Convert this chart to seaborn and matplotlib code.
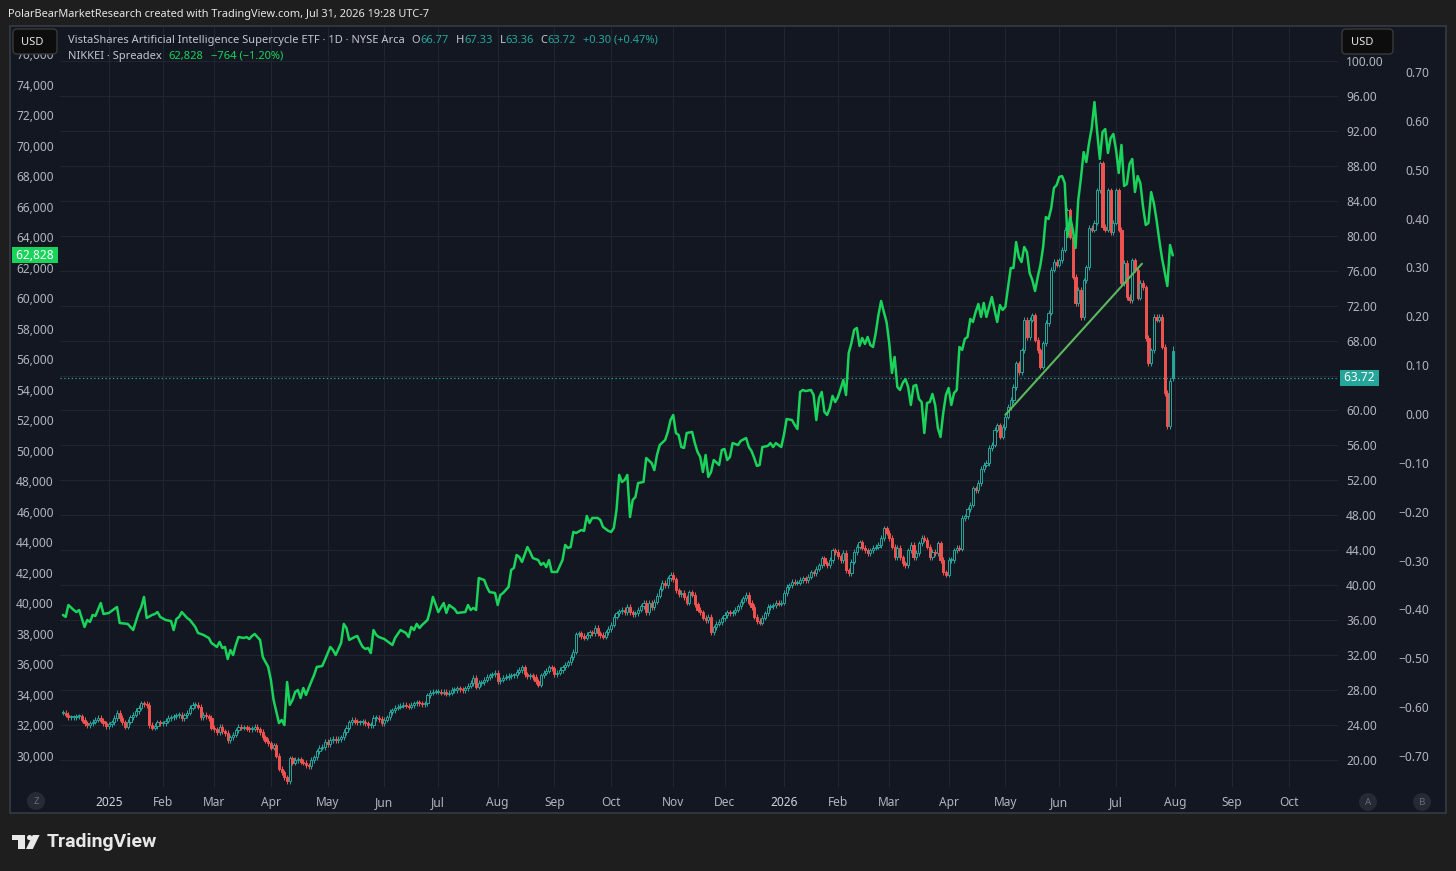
import numpy as np
import pandas as pd
import matplotlib
matplotlib.use('Agg')
import matplotlib.pyplot as plt
import seaborn as sns
from matplotlib.patches import Rectangle, FancyBboxPatch, Circle, Polygon
from matplotlib.transforms import IdentityTransform

# ---------------- data ----------------
# NYSE holidays, used to build the trading-day axis (TradingView skips them)
holidays = ['2024-12-25', '2025-01-01', '2025-01-09', '2025-01-20', '2025-02-17',
            '2025-04-18', '2025-05-26', '2025-06-19', '2025-07-04', '2025-09-01',
            '2025-11-27', '2025-12-25', '2026-01-01', '2026-01-19', '2026-02-16',
            '2026-04-03', '2026-05-25', '2026-06-19', '2026-07-03', '2026-09-07']
first_day = '2024-12-06'
axis_end = '2026-10-30'

# ETF daily closes, one list per month
etf_2024_12 = [25.4, 25.2, 24.9, 24.9, 24.9, 25.0, 25.0, 24.6, 24.2, 24.0, 24.2, 24.4, 24.6, 24.8, 24.5, 24.2, 23.9]
etf_2025_01 = [24.1, 24.3, 24.8, 25.4, 24.8, 24.3, 23.8, 24.4, 24.9, 25.2, 25.6, 26.0, 26.5, 26.4, 26.3, 24.0, 23.7, 23.9, 24.3, 24.2]
etf_2025_02 = [24.2, 24.5, 24.8, 24.9, 25.0, 25.1, 25.2, 24.8, 25.1, 25.4, 26.0, 26.3, 26.3, 26.1, 24.9, 25.2, 25.0, 24.8, 23.7]
etf_2025_03 = [23.5, 23.2, 23.8, 23.3, 23.1, 22.3, 22.6, 22.9, 23.4, 23.8, 23.7, 23.7, 23.6, 23.5, 23.6, 23.8, 23.5, 23.2, 22.6, 22.2, 21.9]
etf_2025_04 = [21.4, 21.7, 20.5, 19.0, 18.6, 18.0, 17.6, 20.2, 19.7, 20.0, 20.1, 19.8, 19.7, 19.4, 19.3, 20.0, 20.3, 21.0, 21.4, 21.5, 22.1]
etf_2025_05 = [21.8, 22.3, 22.4, 22.3, 22.4, 22.6, 23.2, 23.7, 24.3, 24.6, 24.4, 24.3, 24.3, 24.4, 24.2, 24.0, 24.0, 24.8, 24.8, 24.7, 24.2]
etf_2025_06 = [24.6, 24.9, 25.5, 25.7, 26.0, 26.1, 26.2, 26.3, 26.2, 26.1, 26.3, 26.5, 26.6, 26.5, 26.4, 26.5, 27.4, 27.7, 27.8, 27.8]
etf_2025_07 = [27.8, 27.7, 27.8, 27.6, 27.7, 28.0, 28.0, 28.2, 28.1, 28.0, 28.2, 28.5, 28.8, 29.4, 28.4, 28.8, 28.9, 29.2, 29.5, 29.7, 29.8, 30.0]
etf_2025_08 = [29.0, 29.2, 29.4, 29.5, 29.6, 29.7, 29.7, 30.1, 30.3, 30.6, 29.8, 29.6, 29.7, 29.5, 29.0, 28.6, 29.7, 30.0, 30.2, 30.6, 30.5]
etf_2025_09 = [29.8, 30.0, 30.3, 30.6, 30.9, 31.2, 31.8, 32.4, 34.4, 34.5, 34.2, 34.0, 34.3, 34.6, 34.5, 35.1, 34.5, 34.3, 34.1, 34.6, 35.0]
etf_2025_10 = [35.5, 36.4, 36.8, 37.0, 37.2, 36.9, 37.5, 36.9, 36.7, 36.8, 37.2, 37.6, 38.0, 36.9, 38.0, 37.5, 38.1, 38.8, 39.6, 40.3, 40.0, 40.8, 41.2]
etf_2025_11 = [40.7, 39.4, 39.0, 39.1, 38.6, 38.0, 39.2, 38.9, 37.8, 37.2, 36.9, 36.3, 36.0, 36.4, 34.6, 35.2, 35.6, 35.8, 36.2]
etf_2025_12 = [36.6, 36.9, 36.8, 36.9, 37.2, 37.6, 38.1, 38.5, 38.9, 38.0, 37.5, 36.4, 35.9, 35.7, 36.3, 36.8, 37.5, 37.6, 37.7, 38.0, 37.9, 38.0]
etf_2026_01 = [39.1, 39.8, 40.0, 40.4, 40.3, 40.3, 40.6, 40.8, 40.6, 41.0, 41.5, 41.4, 41.9, 42.3, 43.1, 42.5, 42.3, 42.9, 44.0, 43.8]
etf_2026_02 = [43.3, 42.9, 43.7, 41.7, 41.4, 42.7, 43.8, 44.4, 44.9, 44.3, 44.0, 43.7, 44.0, 44.3, 44.4, 44.6, 45.4, 46.5, 46.0]
etf_2026_03 = [45.4, 44.4, 43.2, 44.3, 43.2, 42.5, 42.3, 44.0, 44.6, 43.2, 43.7, 44.8, 45.4, 45.2, 44.4, 43.2, 43.8, 43.7, 44.8, 42.9, 41.5, 41.2]
etf_2026_04 = [42.9, 42.9, 44.0, 44.3, 44.2, 47.7, 47.9, 48.7, 49.2, 51.1, 50.9, 51.7, 53.3, 53.8, 54.0, 55.7, 56.1, 57.8, 58.3, 57.0, 58.1]
etf_2026_05 = [59.3, 60.4, 61.2, 62.7, 65.4, 64.4, 66.9, 70.4, 68.4, 70.4, 70.9, 68.1, 66.9, 65.0, 67.7, 70.0, 71.2, 76.1, 77.0, 76.7]
etf_2026_06 = [77.2, 78.4, 80.7, 82.9, 79.9, 75.3, 72.3, 73.8, 70.7, 74.9, 76.4, 80.9, 80.7, 81.5, 85.2, 88.3, 81.0, 80.7, 85.2, 80.4, 81.5]
etf_2026_07 = [85.2, 80.7, 74.6, 76.9, 73.0, 72.6, 77.2, 76.1, 72.9, 74.6, 74.1, 68.3, 65.4, 66.9, 70.7, 70.4, 70.7, 67.3, 62.0, 58.2, 63.42, 63.72]
# last bar as printed in the legend
last_open, last_high, last_low, last_close = 66.77, 67.33, 63.36, 63.72

# NIKKEI (trading-day number, value)
nikkei_2024 = [(0, 39250), (1, 39120), (2, 39900), (4, 39570), (5, 39440), (6, 39570), (8, 38460), (9, 38920),
               (10, 38790), (11, 39250), (12, 39180), (14, 40030), (15, 39310)]
nikkei_2025 = [(17, 39380), (20, 39770), (21, 38720), (24, 38660), (26, 38260), (28, 39380), (29, 39770), (30, 40430),
               (31, 39050), (33, 39250), (34, 39310), (35, 39440), (36, 39120), (38, 38920), (40, 38850), (41, 38260),
               (42, 38980), (43, 39120), (44, 39440), (46, 39050), (47, 38920), (49, 38460), (50, 38070), (52, 37940),
               (54, 37740), (55, 37410), (57, 37150), (58, 37480), (59, 37080), (60, 37150), (61, 36360), (62, 36950),
               (63, 36620), (64, 37280), (65, 37800), (67, 37740), (68, 37800), (69, 37670), (70, 37870), (71, 38000),
               (73, 37610), (74, 36490), (76, 35840), (77, 34980), (78, 33670), (80, 32160), (81, 32360), (82, 32030),
               (83, 34850), (84, 33350), (85, 33670), (86, 34200), (87, 34330), (88, 33800), (89, 34460), (90, 34000),
               (91, 34460), (93, 35310), (94, 35840), (96, 35900), (97, 36300), (99, 37150), (100, 36950), (101, 36620),
               (103, 37410), (104, 38660), (105, 38390), (106, 37610), (108, 37800), (109, 37870), (110, 37480),
               (111, 37150), (112, 37020), (113, 37080), (114, 36750), (115, 38260), (116, 37940), (117, 37800),
               (119, 37670), (120, 37540), (122, 37280), (123, 37740), (125, 38260), (127, 38070), (128, 37800),
               (129, 38460), (130, 38260), (131, 38660), (132, 38390), (133, 38590), (135, 38920), (136, 39570),
               (137, 40430), (139, 39440), (141, 40030), (142, 39380), (143, 39900), (145, 39640), (146, 39380),
               (149, 39440), (150, 39900), (151, 39570), (152, 39710), (153, 39570), (154, 41670), (156, 41540),
               (157, 41080), (158, 40750), (160, 40690), (161, 39900), (162, 40560), (163, 40690), (165, 41080),
               (166, 42200), (167, 42330), (168, 43180), (169, 43050), (170, 42720), (172, 43700), (173, 43380),
               (174, 42980), (176, 42850), (177, 42530), (178, 42660), (179, 42390), (180, 42850), (181, 42070),
               (183, 42070), (185, 42850), (186, 43840), (187, 43640), (188, 43700), (189, 44690), (190, 44620),
               (192, 44820), (193, 44760), (194, 45740), (195, 45280), (196, 45610), (198, 45610), (199, 45480),
               (200, 45020), (202, 44760), (203, 44690), (204, 44950), (205, 46130), (206, 48430), (207, 47970),
               (208, 48100), (209, 48430), (210, 45670), (211, 46790), (212, 46980), (213, 47900), (215, 47970),
               (216, 49540), (218, 49210), (219, 48750), (220, 49740), (221, 50390), (223, 50720), (224, 51250),
               (225, 52030), (226, 52360), (227, 51180), (228, 51050), (229, 50260), (230, 50200), (231, 51180),
               (233, 51250), (234, 50520), (235, 49940), (236, 49610), (237, 48620), (238, 49740), (239, 48300),
               (240, 48620), (241, 49410), (243, 49080), (244, 50070), (245, 50130), (246, 49410), (247, 49610),
               (248, 50520), (250, 50390), (251, 50660), (253, 50850), (254, 50260), (255, 50000), (256, 49540),
               (257, 49020), (258, 49080), (259, 50260), (261, 50330), (262, 50520), (263, 50260), (264, 50520),
               (266, 50260)]
nikkei_2026 = [(267, 51050), (268, 52100), (270, 52030), (271, 51710), (272, 51440), (273, 53870), (274, 54000),
               (275, 53930), (277, 54000), (278, 53670), (279, 52030), (280, 53470), (281, 53870), (282, 52560),
               (283, 52360), (284, 52820), (285, 53610), (286, 53210), (287, 53540), (288, 54070), (289, 54660),
               (290, 53670), (291, 56430), (292, 57080), (293, 57940), (294, 58070), (295, 56890), (296, 57410),
               (297, 57020), (298, 57480), (299, 56950), (300, 56820), (301, 57740), (302, 58920), (303, 59840),
               (304, 59120), (305, 58460), (306, 57080), (307, 55120), (308, 56170), (309, 54200), (310, 54000),
               (311, 54460), (312, 54720), (313, 54200), (314, 53020), (315, 54260), (316, 54330), (317, 53410),
               (318, 53210), (319, 51180), (320, 53150), (321, 53210), (322, 53740), (323, 53020), (324, 51510),
               (325, 50920), (326, 52490), (327, 53670), (328, 54130), (329, 53020), (330, 53800), (331, 54000),
               (332, 56820), (333, 56630), (334, 57350), (335, 57480), (336, 58660), (337, 58460), (338, 59120),
               (339, 59640), (340, 58790), (341, 59710), (342, 58790), (343, 59450), (344, 60100), (345, 59250),
               (346, 58460), (347, 59570), (348, 59250), (349, 59450), (350, 60750), (351, 62000), (352, 62000),
               (353, 63700), (354, 62720), (355, 62390), (356, 63380), (357, 63050), (358, 61670), (359, 61210),
               (360, 60490), (361, 61410), (362, 62200), (363, 63380), (364, 65340), (365, 65210), (366, 65930),
               (367, 67250), (368, 67440), (369, 67970), (370, 68030), (371, 67570), (372, 64030), (373, 65340),
               (374, 64490), (375, 63310), (376, 66460), (377, 67900), (378, 69600), (379, 68950), (380, 70200),
               (381, 71180), (382, 72880), (383, 70920), (384, 69150), (385, 70920), (386, 71110), (387, 69540),
               (388, 70520), (389, 70790), (390, 69740), (391, 68230), (392, 70070), (393, 67380), (394, 67510),
               (395, 68820), (396, 69150), (397, 66980), (398, 68030), (399, 67570), (400, 66000), (401, 64820),
               (402, 64950), (403, 66980), (404, 66260), (405, 65150), (406, 63840), (407, 62660), (408, 61740),
               (409, 60820), (410, 63510), (411, 62828)]
nikkei_change = '\u2212764 (\u22121.20%)'

# trend line drawn on the ETF (trading-day number, price)
trend_day = [349, 399.6]
trend_price = [59.5, 76.8]

etf_ticks = list(range(20, 101, 4))
nikkei_ticks = list(range(30000, 76001, 2000))
ratio_ticks = [0.7, 0.6, 0.5, 0.4, 0.3, 0.2, 0.1, 0.0, -0.1, -0.2, -0.3, -0.4, -0.5, -0.6, -0.7]

# ---------------- style ----------------
W, H = 1456, 871
BG_OUT = '#1e1e1e'
BG = '#131722'
GRID = '#21252f'
TXT = '#b2b5be'
TEAL = '#26a69a'
RED = '#ef5350'
GREEN = '#19d35a'
TREND = '#5cb85c'
FS = 8.6

sns.set_theme(style='dark')
plt.rcParams['font.family'] = ['Noto Sans', 'DejaVu Sans']

fig = plt.figure(figsize=(W / 100, H / 100), dpi=100)
fig.patch.set_facecolor(BG_OUT)
PIX = IdentityTransform()

fig.add_artist(Rectangle((10, H - 813), 1436, 787, transform=PIX, fc=BG, ec='#363a45', lw=1.2, zorder=-5))

ax = fig.add_axes([60 / W, 1 - 787 / H, 1278 / W, 760 / H])
axn = ax.twinx()
axr = ax.twinx()
ax.yaxis.tick_right()
axn.yaxis.tick_left()
ax.set_facecolor('none')

# ---------------- candles ----------------
close = np.array(etf_2024_12 + etf_2025_01 + etf_2025_02 + etf_2025_03 + etf_2025_04 + etf_2025_05 +
                 etf_2025_06 + etf_2025_07 + etf_2025_08 + etf_2025_09 + etf_2025_10 + etf_2025_11 +
                 etf_2025_12 + etf_2026_01 + etf_2026_02 + etf_2026_03 + etf_2026_04 + etf_2026_05 +
                 etf_2026_06 + etf_2026_07)
days = np.arange(len(close))
prev = np.r_[close[0], close[:-1]]
opn = prev.copy()
opn[-1] = last_open
top = np.maximum(opn, close)
bot = np.minimum(opn, close)
high = top + 0.3
low = bot - 0.3
high[-1], low[-1] = last_high, last_low
up = close >= prev
col = np.where(up, TEAL, RED)
face = np.where(close > opn, BG, col)
height = np.maximum(top - bot, 0.12)

ax.vlines(days, top, high, colors=col, lw=0.75, zorder=2)
ax.vlines(days, low, bot, colors=col, lw=0.75, zorder=2)
ax.bar(days, height, bottom=bot, width=0.8, color=face, edgecolor=col, linewidth=0.7, zorder=3)

ax.plot(trend_day, trend_price, color=TREND, lw=1.5, zorder=4, solid_capstyle='round')
ax.axhline(last_close, color=TEAL, ls=(0, (1, 2)), lw=0.9, zorder=1)

# ---------------- NIKKEI ----------------
nk = pd.DataFrame(nikkei_2024 + nikkei_2025 + nikkei_2026, columns=['day', 'value'])
sns.lineplot(data=nk, x='day', y='value', ax=axn, color=GREEN, linewidth=1.8,
             estimator=None, sort=False, legend=False)

# ---------------- axes ----------------
cal = pd.bdate_range(first_day, axis_end, freq='C', holidays=holidays)
pos = pd.Series(np.arange(len(cal)), index=cal)
starts = pos.groupby([cal.year, cal.month]).first().iloc[1:]
month_pos = list(starts.values)
month_lbl = [str(y) if m == 1 else pd.Timestamp(y, m, 1).strftime('%b') for y, m in starts.index]

ax.set_xlim(-1.1, 472.2)
ax.set_ylim(16.91, 103.89)
axn.set_ylim(27967, 77803)
axr.set_ylim(-0.7634, 0.7921)

ax.set_xticks(month_pos)
ax.set_xticklabels(month_lbl)
ax.set_yticks(etf_ticks)
# the scale hides the tick label that sits under the last-price tag
ax.set_yticklabels(['' if abs(v - last_close) < 2.5 else f'{v:.2f}' for v in etf_ticks])
axn.set_yticks(nikkei_ticks)
axn.set_yticklabels([f'{v:,}' for v in nikkei_ticks])
axr.set_yticks(ratio_ticks)
axr.set_yticklabels([f'{v:.2f}'.replace('-', '\u2212') if abs(v) > 1e-9 else '0.00' for v in ratio_ticks])

ax.tick_params(axis='x', length=0, colors=TXT, labelsize=FS, pad=6.2)
ax.tick_params(axis='y', length=0, colors=TXT, labelsize=FS, pad=5.8)
axn.tick_params(axis='y', length=0, colors=TXT, labelsize=FS, pad=4.5)
axr.tick_params(axis='y', length=0, colors=TXT, labelsize=FS, pad=65.5)
for lbl in axr.get_yticklabels():
    lbl.set_ha('right')
for lbl in ax.get_xticklabels():
    if lbl.get_text().isdigit():
        lbl.set_fontweight('bold')
        lbl.set_color('#d1d4dc')

ax.grid(True, color=GRID, lw=0.8)
ax.set_axisbelow(True)
axn.grid(False)
axr.grid(False)
for a in (ax, axn, axr):
    a.set_xlabel('')
    a.set_ylabel('')
    for s in a.spines.values():
        s.set_visible(False)

# price labels on the scales
ax.annotate(f' {last_close:.2f} ', xy=(1, last_close), xycoords=('axes fraction', 'data'),
            xytext=(3, 0), textcoords='offset pixels', ha='left', va='center', color='white',
            fontsize=FS, bbox=dict(boxstyle='square,pad=0.12', fc=TEAL, ec='none'),
            annotation_clip=False, zorder=10)
axn.annotate(f' {nk.value.iloc[-1]:,} ', xy=(0, nk.value.iloc[-1]), xycoords=('axes fraction', 'data'),
             xytext=(-3, 0), textcoords='offset pixels', ha='right', va='center', color='white',
             fontsize=FS, fontweight='bold', bbox=dict(boxstyle='square,pad=0.12', fc=GREEN, ec='none'),
             annotation_clip=False, zorder=10)

# ---------------- header / decorations ----------------
renderer = fig.canvas.get_renderer()


def text_row(x, y, parts, size):
    for s, c, gap in parts:
        t = fig.text(x, H - y, s, color=c, fontsize=size, ha='left', va='center', transform=PIX, zorder=15)
        x += t.get_window_extent(renderer).width + gap


fig.text(8, H - 14, 'PolarBearMarketResearch created with TradingView.com, Jul 31, 2026 19:28 UTC-7',
         transform=PIX, color='#e6e6e6', fontsize=7.9, fontweight='semibold', va='center', ha='left')

HEAD = '#c3c6ce'
text_row(68, 40, [('VistaShares Artificial Intelligence Supercycle ETF \u00b7 1D \u00b7 NYSE Arca', HEAD, 7),
                  ('O', HEAD, 0), (f'{last_open:.2f}', TEAL, 7),
                  ('H', HEAD, 0), (f'{last_high:.2f}', TEAL, 7),
                  ('L', HEAD, 0), (f'{last_low:.2f}', TEAL, 7),
                  ('C', HEAD, 0), (f'{last_close:.2f}', TEAL, 7),
                  ('+0.30 (+0.47%)', TEAL, 0)], 8.0)
text_row(68, 56, [('NIKKEI \u00b7 Spreadex', HEAD, 7), (f'{nk.value.iloc[-1]:,}', GREEN, 7),
                  (nikkei_change, GREEN, 0)], 8.0)

for bx, bw, tx in [(13, 44, 21), (1342, 51, 1351)]:
    fig.add_artist(FancyBboxPatch((bx, H - 54), bw, 25, boxstyle='round,pad=0,rounding_size=4',
                                  transform=PIX, fc='#0d0d0d', ec='#3a3a3a', lw=1, zorder=20))
    fig.text(tx, H - 42, 'USD', transform=PIX, color='#e6e6e6', fontsize=8, ha='left', va='center', zorder=21)

for cx, cy, letter in [(36, 801, 'Z'), (1368, 802, 'A'), (1422, 802, 'B')]:
    fig.add_artist(Circle((cx, H - cy), 9, transform=PIX, fc='#262a35', ec='none', zorder=20))
    fig.text(cx, H - cy, letter, transform=PIX, color='#6a6d78', fontsize=7, ha='center', va='center', zorder=21)

LOGO = '#e8e8e8'
fig.add_artist(Polygon([(12, H - 835), (25, H - 835), (25, H - 849), (18, H - 849), (18, H - 840), (12, H - 840)],
                       closed=True, transform=PIX, fc=LOGO, ec='none'))
fig.add_artist(Circle((29.6, H - 837.6), 2.6, transform=PIX, fc=LOGO, ec='none'))
fig.add_artist(Polygon([(32.8, H - 835), (39.6, H - 835), (32.8, H - 849), (26, H - 849)],
                       closed=True, transform=PIX, fc=LOGO, ec='none'))
fig.text(47, H - 842, 'TradingView', transform=PIX, color=LOGO, fontsize=14, fontweight='bold',
         family=['Roboto', 'DejaVu Sans'], ha='left', va='center')

fig.savefig('out.png', dpi=100, facecolor=BG_OUT)
